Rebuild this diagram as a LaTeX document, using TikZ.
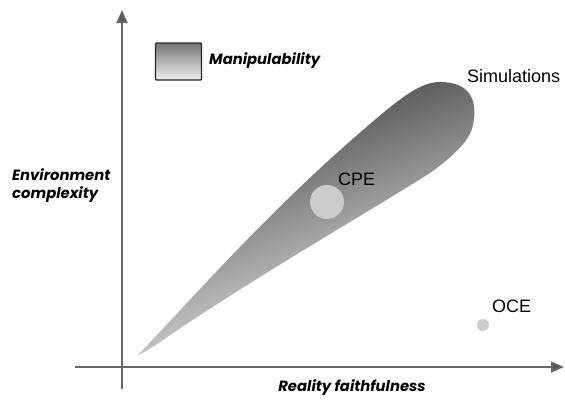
\documentclass[tikz,border=0pt]{standalone}
\usepackage{fontspec}
\setmainfont{Liberation Sans}
\newfontfamily\popfont{Poppins}
\usetikzlibrary{arrows.meta}
\definecolor{axisgray}{HTML}{666666}
\definecolor{tipgray}{HTML}{555555}
\definecolor{dotgray}{HTML}{CCCCCC}
\tikzset{
  axisline/.style={draw=axisgray, line width=1.8pt, -{Triangle[length=13pt,width=11pt,fill=tipgray]}},
  boldlabel/.style={font=\popfont\bfseries\itshape\fontsize{14.8}{18}\selectfont, inner sep=0pt},
  plainlabel/.style={font=\fontsize{18}{20}\selectfont, inner sep=0pt},
  dot/.style={circle, fill=dotgray, draw=none, inner sep=0pt}
}
\begin{document}
\begin{tikzpicture}[x=1pt,y=-1pt]
\useasboundingbox (0,0) rectangle (565,399);
% axes
\coordinate (yb) at (122,389);
\coordinate (yt) at (122,10);
\coordinate (xl) at (75,367);
\coordinate (xr) at (564,367);
\draw[axisline] (yb) -- (yt);
\draw[axisline] (xl) -- (xr);
% blob
\shade[top color=black!78, bottom color=black!4, shading angle=20]
  (138,355) .. controls (200,290) and (270,210) .. (363,130)
  .. controls (400,98) and (420,82) .. (440,82)
  .. controls (470,82) and (478,100) .. (473,125)
  .. controls (470,140) and (455,155) .. (430,173)
  .. controls (380,205) and (250,280) .. (163,340)
  .. controls (150,349) and (142,354) .. (138,355) -- cycle;
% legend box
\node[draw=black!85, line width=1.2pt, rounded corners=1pt, minimum width=46pt, minimum height=37pt, top color=black!55, bottom color=black!5, inner sep=0pt] (legbox) at (178.5,61.5) {};
\node[boldlabel, anchor=west] (leg) at (209,61) {Manipulability};
% axis labels
\node[boldlabel, anchor=north west, align=left, font=\popfont\bfseries\itshape\fontsize{14.8}{18}\selectfont] (ylab) at (12,168) {Environment\\complexity};
\node[boldlabel] (xlab) at (352,388) {Reality faithfulness};
% points
\node[dot, minimum size=34pt] (cpe) at (327,202) {};
\node[plainlabel, anchor=base west] (cpelab) at (338,185) {CPE};
\node[dot, minimum size=12pt] (oce) at (483,325) {};
\node[plainlabel, anchor=base west] (ocelab) at (492,312) {OCE};
\node[plainlabel, anchor=base west] (simlab) at (467,82) {Simulations};
\end{tikzpicture}
\end{document}
